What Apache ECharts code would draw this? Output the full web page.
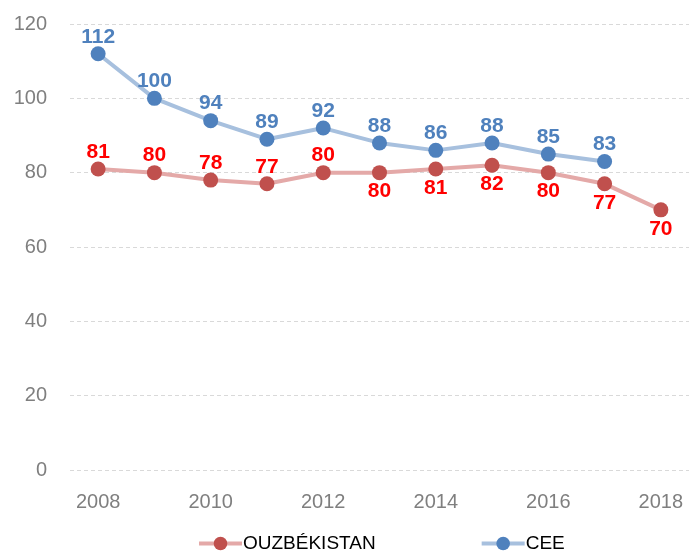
<!DOCTYPE html>
<html>
<head>
<meta charset="utf-8">
<script src="https://cdn.jsdelivr.net/npm/echarts@6/dist/echarts.min.js"></script>
<style>
  html, body { margin: 0; padding: 0; background: #fff; }
  #chart { width: 689px; height: 554px; }
</style>
</head>
<body>
<div id="chart"></div>
<script>
const years = ['2008', '2009', '2010', '2011', '2012', '2013', '2014', '2015', '2016', '2017', '2018'];
const ouzValues = [81, 80, 78, 77, 80, 80, 81, 82, 80, 77, 70];
const ceeValues = [112, 100, 94, 89, 92, 88, 86, 88, 85, 83];
const yTicks = [0, 20, 40, 60, 80, 100, 120];

const font = '"Liberation Sans", Arial, sans-serif';

// red labels sit above the points up to 2012, below afterwards
const ouzData = ouzValues.map((v, i) => ({
  value: v,
  label: { position: i < 5 ? 'top' : 'bottom', distance: i < 5 ? -1 : 1 }
}));

const chart = echarts.init(document.getElementById('chart'));
chart.setOption({
  animation: false,
  grid: { left: 70, top: 24, width: 620, height: 446 },
  xAxis: {
    type: 'category',
    data: years,
    boundaryGap: true,
    axisLine: { show: false },
    axisTick: { show: false },
    axisLabel: {
      interval: 1,
      color: '#7f7f7f',
      fontSize: 20,
      fontFamily: font,
      margin: 22
    }
  },
  yAxis: {
    type: 'value',
    min: yTicks[0],
    max: yTicks[yTicks.length - 1],
    interval: 20,
    axisLine: { show: false },
    axisTick: { show: false },
    axisLabel: { color: '#7f7f7f', fontSize: 20, fontFamily: font, margin: 23 },
    splitLine: { lineStyle: { color: '#d9d9d9', type: [4, 3], width: 1 } }
  },
  legend: {
    top: 534,
    left: 197,
    padding: 0,
    itemGap: 104,
    itemWidth: 43,
    itemHeight: 17,
    lineStyle: { width: 4 },
    textStyle: { color: '#000', fontSize: 19, fontFamily: font, padding: [0, 0, 0, -4] },
    data: ['OUZBÉKISTAN', 'CEE']
  },
  series: [
    {
      name: 'OUZBÉKISTAN',
      type: 'line',
      data: ouzData,
      symbol: 'circle',
      symbolSize: 15,
      itemStyle: { color: '#c0504d' },
      lineStyle: { color: '#e4a9a8', width: 4 },
      label: {
        show: true,
        color: '#ff0000',
        fontSize: 21,
        fontWeight: 'bold',
        fontFamily: font
      },
      z: 2
    },
    {
      name: 'CEE',
      type: 'line',
      data: ceeValues,
      symbol: 'circle',
      symbolSize: 15,
      itemStyle: { color: '#4f81bd' },
      lineStyle: { color: '#a7c0de', width: 4 },
      label: {
        show: true,
        position: 'top',
        distance: -1,
        color: '#4f81bd',
        fontSize: 21,
        fontWeight: 'bold',
        fontFamily: font
      },
      z: 3
    }
  ]
});
</script>
</body>
</html>
